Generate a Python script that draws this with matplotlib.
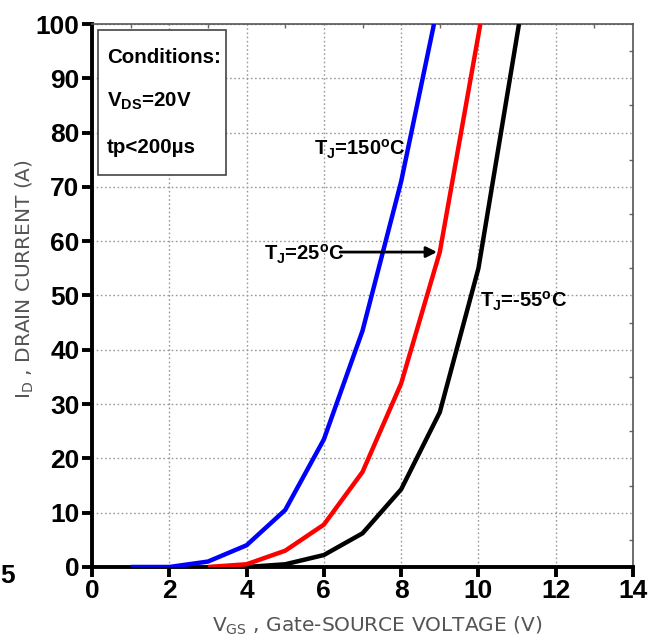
import numpy as np
import matplotlib.pyplot as plt
from matplotlib.ticker import MultipleLocator
from matplotlib.patches import Rectangle

# transfer characteristics
vgs_150 = [1, 2, 3, 4, 5, 6, 7, 8, 8.85]
id_150 = [0, 0, 1, 4, 10.5, 23.5, 43.5, 71, 100]

vgs_25 = [3, 4, 5, 6, 7, 8, 9, 10.05]
id_25 = [0, 0.5, 3, 7.8, 17.5, 33.8, 58, 100]

vgs_m55 = [4, 5, 6, 7, 8, 9, 10, 11.05]
id_m55 = [0, 0.5, 2.2, 6.2, 14.3, 28.5, 55, 100]

xticks = np.arange(0, 15, 2)
yticks = np.arange(0, 101, 10)

bold = ['Liberation Sans', 'DejaVu Sans']

fig = plt.figure(figsize=(6.55, 6.44), dpi=100)
ax = fig.add_axes([0.1405, 0.1196, 0.8259, 0.8431])

ax.plot(vgs_m55, id_m55, color='black', lw=3.2, solid_capstyle='butt', zorder=3)
ax.plot(vgs_25, id_25, color='#ff0000', lw=3.2, solid_capstyle='butt', zorder=3)
ax.plot(vgs_150, id_150, color='#0000ff', lw=3.2, solid_capstyle='butt', zorder=3)

ax.set_xlim(0, 14)
ax.set_ylim(0, 100)
ax.set_xticks(xticks)
ax.set_yticks(yticks)
ax.xaxis.set_minor_locator(MultipleLocator(1))
ax.yaxis.set_minor_locator(MultipleLocator(5))
ax.set_xticklabels([str(v) for v in xticks], family=bold, fontweight='bold', fontsize=19)
ax.set_yticklabels([str(v) for v in yticks], family=bold, fontweight='bold', fontsize=19)
ax.grid(True, which='major', color='#999999', linestyle=(0, (1.2, 1.8)), lw=1.0)

for s in ['left', 'bottom']:
    ax.spines[s].set_linewidth(2.8)
    ax.spines[s].set_color('black')
for s in ['top', 'right']:
    ax.spines[s].set_linewidth(1.2)
    ax.spines[s].set_color('#555555')
ax.tick_params(axis='both', which='major', direction='out', length=7, width=2.8,
               pad=2, colors='black')
ax.tick_params(axis='both', which='minor', bottom=False, left=False, top=True,
               right=True, direction='in', length=3, width=1, color='#666666')

ax.set_xlabel('V$_{\\mathregular{GS}}$ , Gate-SOURCE VOLTAGE (V)', fontsize=14.5,
              color='#555555')
ax.xaxis.set_label_coords(0.527, -0.088)
ax.set_ylabel('I$_{\\mathregular{D}}$ , DRAIN CURRENT (A)', fontsize=14.5,
              color='#555555')
ax.yaxis.set_label_coords(-0.104, 0.53)

# conditions box
ax.add_patch(Rectangle((0.011, 0.722), 0.237, 0.267, transform=ax.transAxes,
                       fc='white', ec='#444444', lw=1.2, zorder=4))
cond_lines = ['Conditions:', 'V$_{\\mathregular{DS}}$=20V', 'tp<200\u00b5s']
cond_y = [0.939, 0.858, 0.772]
for line, yy in zip(cond_lines, cond_y):
    ax.text(0.028, yy, line, transform=ax.transAxes, va='center', ha='left',
            family=bold, fontweight='bold', fontsize=14.8, zorder=5)

ax.text(5.75, 77, 'T$_{\\mathregular{J}}$=150$^{\\mathregular{o}}$C', family=bold,
        fontweight='bold', fontsize=14.5, va='center', ha='left', zorder=4)
ax.text(4.45, 57.5, 'T$_{\\mathregular{J}}$=25$^{\\mathregular{o}}$C', family=bold,
        fontweight='bold', fontsize=14.5, va='center', ha='left', zorder=4)
ax.annotate('', xy=(9.0, 58), xytext=(6.35, 58),
            arrowprops=dict(arrowstyle='-|>', color='black', lw=2, mutation_scale=16),
            zorder=4)
ax.text(10.05, 49, 'T$_{\\mathregular{J}}$=-55$^{\\mathregular{o}}$C', family=bold,
        fontweight='bold', fontsize=14.5, va='center', ha='left', zorder=4)

fig.text(0.0, 0.095, '5', family=bold, fontweight='bold', fontsize=19)

fig.savefig('out.png', dpi=100)
